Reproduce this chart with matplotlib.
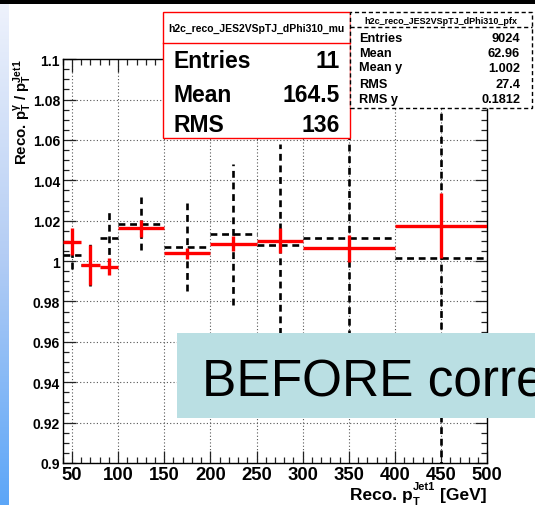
import numpy as np
import matplotlib
matplotlib.use("Agg")
import matplotlib.pyplot as plt
from matplotlib.patches import Rectangle
from matplotlib.ticker import MultipleLocator, FuncFormatter
from matplotlib.colors import LinearSegmentedColormap

# ---------------- data ----------------
bin_edges = [40, 60, 80, 100, 150, 200, 250, 300, 400, 500]
mu_values = [1.0097, 0.9981, 0.9973, 1.0162, 1.0039, 1.0087, 1.0101, 1.0064, 1.0175]
mu_errors = [0.0066, 0.0097, 0.0044, 0.0041, 0.0027, 0.0036, 0.0062, 0.0066, 0.0162]
pfx_values = [1.0030, 0.9980, 1.0112, 1.0186, 1.0070, 1.0133, 1.0080, 1.0112, 1.0016]
pfx_errors = [0.0070, 0.0105, 0.0135, 0.0130, 0.0220, 0.0350, 0.0500, 0.0600, 0.1100]

mu_stats = [("Entries", "11"), ("Mean", "164.5"), ("RMS", "136")]
pfx_stats = [("Entries", "9024"), ("Mean", "62.96"), ("Mean y", "1.002"),
             ("RMS", "27.4"), ("RMS y", "0.1812")]
mu_title = "h2c_reco_JES2VSpTJ_dPhi310_mu"
pfx_title = "h2c_reco_JES2VSpTJ_dPhi310_pfx"

# ---------------- style ----------------
plt.rcParams['font.family'] = ['Liberation Sans', 'DejaVu Sans']
plt.rcParams['mathtext.fontset'] = 'custom'
plt.rcParams['mathtext.rm'] = 'Liberation Sans:bold'
plt.rcParams['mathtext.bf'] = 'Liberation Sans:bold'
plt.rcParams['mathtext.it'] = 'Liberation Sans:bold'
plt.rcParams['mathtext.default'] = 'bf'

W, H = 535, 506
fig = plt.figure(figsize=(W / 100, H / 100), dpi=100)
fig.patch.set_facecolor('white')

def fx(x):
    return x / W

def fy(y):
    return 1 - y / H

# left gradient strip & top black strip
gax = fig.add_axes([0, 0, fx(9), 1 - 5 / H])
grad = np.linspace(0, 1, 256).reshape(-1, 1)
cmap = LinearSegmentedColormap.from_list('g', ['#EEF2FC', '#B4CDF4', '#5CA6F8'])
gax.imshow(grad, aspect='auto', cmap=cmap, extent=[0, 1, 0, 1], origin='upper')
gax.axis('off')
fig.add_artist(Rectangle((0, fy(5)), 1, 5 / H, transform=fig.transFigure,
                         facecolor='black', edgecolor='none', zorder=10))

# main axes
left, right, top, bottom = 62.7, 487.3, 60.2, 464.0
ax = fig.add_axes([fx(left), fy(bottom), fx(right) - fx(left), (bottom - top) / H])
ax.set_xlim(40, 500)
ax.set_ylim(0.9, 1.1)

edges = np.array(bin_edges)
centers = 0.5 * (edges[:-1] + edges[1:])

dash = (0, (2.6, 1.8))
ax.hlines(pfx_values, edges[:-1], edges[1:], colors='black', linewidth=1.9,
          linestyles=[dash], zorder=3)
ax.vlines(centers, np.array(pfx_values) - np.array(pfx_errors),
          np.array(pfx_values) + np.array(pfx_errors), colors='black',
          linewidth=1.9, linestyles=[dash], zorder=3)

ax.hlines(mu_values, edges[:-1], edges[1:], colors='#FF0000', linewidth=2.4, zorder=4)
ax.vlines(centers, np.array(mu_values) - np.array(mu_errors),
          np.array(mu_values) + np.array(mu_errors), colors='#FF0000',
          linewidth=2.4, zorder=4)

ax.xaxis.set_major_locator(MultipleLocator(50))
ax.xaxis.set_minor_locator(MultipleLocator(10))
ax.yaxis.set_major_locator(MultipleLocator(0.02))
ax.yaxis.set_minor_locator(MultipleLocator(0.005))
ax.yaxis.set_major_formatter(FuncFormatter(lambda v, p: f"{round(v, 3):g}"))
ax.xaxis.set_major_formatter(FuncFormatter(lambda v, p: f"{round(v):d}"))
ax.tick_params(which='both', direction='in', top=True, right=True, width=0.9, color='#222')
ax.tick_params(which='major', length=9)
ax.tick_params(which='minor', length=4.5)
ax.tick_params(axis='x', which='major', labelsize=13.3, pad=2)
ax.tick_params(axis='y', which='major', labelsize=10, pad=2)
for lab in ax.get_xticklabels() + ax.get_yticklabels():
    lab.set_fontweight('bold')
ax.grid(True, which='major', color='#555555', linestyle=(0, (1, 2)), linewidth=0.8)
ax.set_axisbelow(True)
for s in ax.spines.values():
    s.set_linewidth(1.0)

# ---------------- x axis title (ROOT-like compact sub/superscript) ----------------
renderer = fig.canvas.get_renderer()

def width_px(t):
    bb = t.get_window_extent(renderer=renderer)
    return bb.width

xb = 500.0
t1 = fig.text(fx(486.7), fy(xb), "[GeV]", ha='right', va='baseline',
              fontsize=12.5, fontweight='bold')
x_cur = 486.7 - width_px(t1) - 5
t2 = fig.text(fx(x_cur), fy(xb - 10), "Jet1", ha='right', va='baseline',
              fontsize=8, fontweight='bold')
wsup = width_px(t2)
fig.text(fx(x_cur - wsup), fy(xb + 5), "T", ha='left', va='baseline',
         fontsize=8, fontweight='bold')
x_cur = x_cur - wsup - 0.5
fig.text(fx(x_cur), fy(xb), "Reco. p", ha='right', va='baseline',
         fontsize=12.5, fontweight='bold')

# y axis title
fig.text(fx(23), fy(59), "Reco. p$_{T}^{γ}$ / p$_{T}^{Jet1}$", rotation=90,
         ha='center', va='top', fontsize=10.8, fontweight='bold')

# ---------------- stat boxes ----------------
def box(x0, x1, y0, y1, ydiv, ec, ls):
    fig.add_artist(Rectangle((fx(x0), fy(y1)), fx(x1) - fx(x0), (y1 - y0) / H,
                             transform=fig.transFigure, facecolor='white',
                             edgecolor=ec, linewidth=1.0, linestyle=ls, zorder=6))
    fig.add_artist(plt.Line2D([fx(x0), fx(x1)], [fy(ydiv), fy(ydiv)],
                              transform=fig.transFigure, color=ec, linewidth=1.0,
                              linestyle=ls, zorder=7))

box(163.3, 350, 12.7, 139.3, 44.3, '#FF0000', '-')
fig.text(fx(256.7), fy(31.7), mu_title, ha='center', va='baseline', fontsize=7.5,
         fontweight='bold', zorder=8)
for (lab, val), yb in zip(mu_stats, [68.3, 101.7, 131.7]):
    fig.text(fx(173.3), fy(yb), lab, ha='left', va='baseline', fontsize=16.5,
             fontweight='bold', zorder=8)
    fig.text(fx(340), fy(yb), val, ha='right', va='baseline', fontsize=16.5,
             fontweight='bold', zorder=8)

box(350, 531.7, 12.7, 109.3, 28.3, 'black', (0, (3, 2)))
fig.text(fx(440.8), fy(24), pfx_title, ha='center', va='baseline', fontsize=6.5,
         fontweight='bold', zorder=8)
for (lab, val), yb in zip(pfx_stats, [41.7, 56.7, 71.5, 88.3, 103.3]):
    fig.text(fx(359.3), fy(yb), lab, ha='left', va='baseline', fontsize=9.2,
             fontweight='bold', zorder=8)
    fig.text(fx(520), fy(yb), val, ha='right', va='baseline', fontsize=9.2,
             fontweight='bold', zorder=8)

# ---------------- BEFORE banner ----------------
fig.add_artist(Rectangle((fx(177.3), fy(419)), 1 - fx(177.3), (419 - 334) / H,
                         transform=fig.transFigure, facecolor='#BADFE3',
                         edgecolor='none', zorder=6))
fig.text(fx(201.7), fy(395), "BEFORE correction", ha='left', va='baseline',
         fontsize=37, fontweight='normal', color='black', zorder=8)

fig.savefig("out.png", dpi=100)
